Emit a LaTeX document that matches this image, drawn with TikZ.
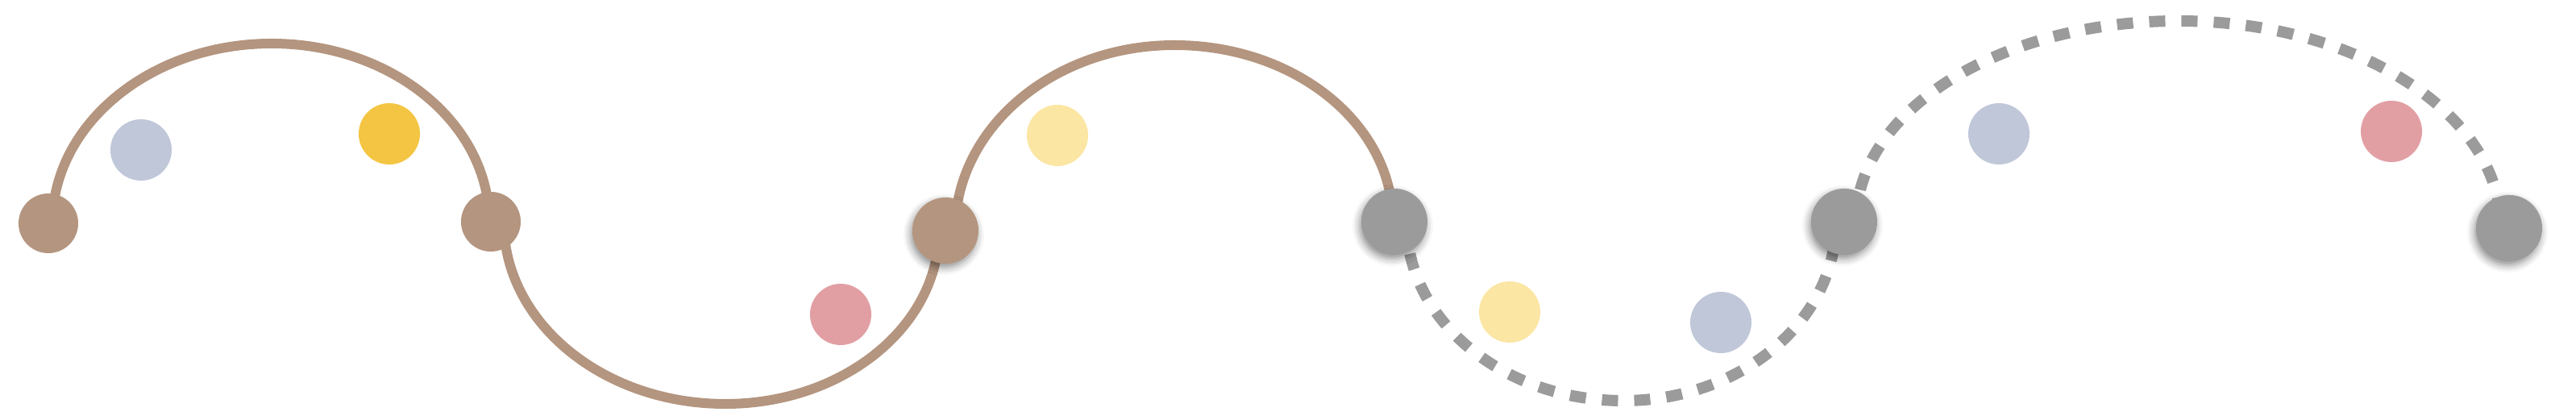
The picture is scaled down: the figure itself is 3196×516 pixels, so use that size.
\documentclass[tikz,border=0pt]{standalone}
\usepackage{tikz}
\usetikzlibrary{positioning, shadows.blur, backgrounds}
\definecolor{bondBrown}{HTML}{B4957F}
\definecolor{fadeGrey}{HTML}{9B9B9B}
\definecolor{dotBlue}{HTML}{C0C7D9}
\definecolor{dotGold}{HTML}{F4C543}
\definecolor{dotCream}{HTML}{FCE6A4}
\definecolor{dotPink}{HTML}{E19FA4}

\begin{document}
\begin{tikzpicture}[x=0.01cm, y=-0.01cm,
    joint/.style={circle, inner sep=0pt, minimum size=0.74cm, fill=bondBrown},
    lifted/.style={circle, inner sep=0pt, minimum size=0.82cm, blur shadow={shadow xshift=-0.6pt, shadow yshift=-1.4pt, shadow blur radius=2.6pt, shadow opacity=45}},
    bead/.style={circle, inner sep=0pt, minimum size=0.76cm},
    solidArc/.style={draw=bondBrown, line width=0.12cm},
    dottedArc/.style={draw=fadeGrey, line width=0.14cm, dash pattern=on 0.2cm off 0.2cm}]
    \useasboundingbox (0,0) rectangle (3196,516);

    % joints along the chain
    \node[joint] (n1) at (60,277) {};
    \node[joint] (n2) at (609,275) {};
    \node[lifted, fill=bondBrown] (n3) at (1173,286) {};
    \node[lifted, fill=fadeGrey] (n4) at (1730,275) {};
    \node[lifted, fill=fadeGrey] (n5) at (2288,275) {};
    \node[lifted, fill=fadeGrey] (n6) at (3113,283) {};

    % loose beads
    \node[bead, fill=dotBlue] (b1) at (175,186) {};
    \node[bead, fill=dotGold] (g1) at (483,166) {};
    \node[bead, fill=dotPink] (p1) at (1043,390) {};
    \node[bead, fill=dotCream] (c1) at (1312,168) {};
    \node[bead, fill=dotCream] (c2) at (1873,387) {};
    \node[bead, fill=dotBlue] (b2) at (2135,400) {};
    \node[bead, fill=dotBlue] (b3) at (2480,166) {};
    \node[bead, fill=dotPink] (p2) at (2967,163) {};

    % turning points of the arcs
    \coordinate (t1) at (337,54);
    \coordinate (t2) at (900,501);
    \coordinate (t3) at (1457,56);
    \coordinate (t4) at (2014,497);
    \coordinate (t5) at (2703,26);

    \begin{pgfonlayer}{background}
        \draw[solidArc] ([xshift=0.05cm]n1.center) .. controls +(0,-123) and +(-150,0) .. (t1)
            .. controls +(149,0) and +(0,-122) .. ([xshift=-0.02cm]n2.center);
        \draw[solidArc] ([xshift=0.16cm]n2.center) .. controls +(0,125) and +(-152,0) .. (t2)
            .. controls +(146,0) and +(0,119) .. ([xshift=-0.08cm]n3.center);
        \draw[solidArc] ([xshift=0.12cm]n3.center) .. controls +(0,-127) and +(-150,0) .. (t3)
            .. controls +(150,0) and +(0,-121) .. ([xshift=-0.02cm]n4.center);
        \draw[dottedArc] ([xshift=0.15cm]n4.center) .. controls +(0,123) and +(-149,0) .. (t4)
            .. controls +(146,0) and +(0,123) .. ([xshift=-0.10cm]n5.center);
        \draw[dottedArc] ([xshift=0.15cm]n5.center) .. controls +(0,-138) and +(-221,0) .. (t5)
            .. controls +(221,0) and +(0,-142) .. ([xshift=-0.10cm]n6.center);
    \end{pgfonlayer}
\end{tikzpicture}
\end{document}
